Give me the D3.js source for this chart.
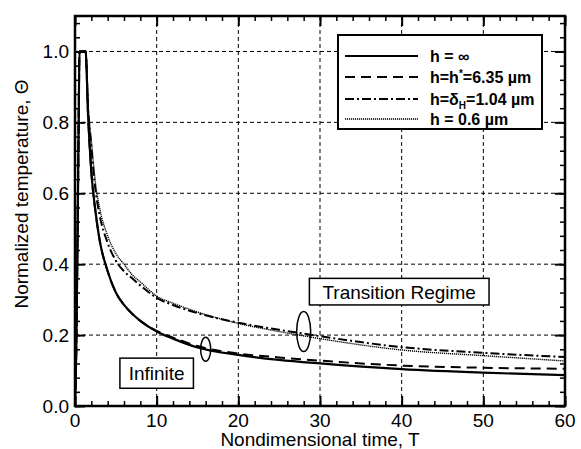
<!DOCTYPE html>
<html>
<head>
<meta charset="utf-8">
<script src="https://cdn.jsdelivr.net/npm/d3@7"></script>
<style>
  body { margin: 0; background: #fff; }
  text { font-family: "Liberation Sans", Arial, Helvetica, sans-serif; fill: #000; }
</style>
</head>
<body>
<svg id="chart" width="581" height="449"></svg>
<script>
// nondimensional time samples shared by all curves
const timeT = [0, 0.15, 0.3, 0.45, 0.55, 1.3, 1.6, 2, 2.5, 3, 4, 5, 6, 7, 8, 10, 12, 15, 20, 25, 30, 40, 50, 60];

// normalized temperature, one array per film thickness
const thetaInf   = [0, 0.15, 0.45, 0.8, 1, 1, 0.82, 0.66, 0.55, 0.47, 0.38, 0.32, 0.285, 0.26, 0.24, 0.21, 0.19, 0.165, 0.144, 0.13, 0.12, 0.104, 0.094, 0.087];
const thetaStar  = [0, 0.15, 0.45, 0.8, 1, 1, 0.82, 0.66, 0.55, 0.47, 0.38, 0.32, 0.285, 0.26, 0.24, 0.212, 0.193, 0.169, 0.148, 0.137, 0.128, 0.114, 0.108, 0.105];
const thetaDelta = [0, 0.15, 0.45, 0.8, 1, 1, 0.84, 0.73, 0.61, 0.54, 0.46, 0.41, 0.38, 0.36, 0.34, 0.305, 0.285, 0.262, 0.235, 0.215, 0.197, 0.166, 0.15, 0.138];
const theta06    = [0, 0.15, 0.45, 0.8, 1, 1, 0.85, 0.75, 0.63, 0.56, 0.48, 0.43, 0.40, 0.37, 0.35, 0.31, 0.29, 0.265, 0.233, 0.21, 0.19, 0.158, 0.142, 0.127];

const xTicks = [0, 10, 20, 30, 40, 50, 60];
const yTicks = [0, 0.2, 0.4, 0.6, 0.8, 1.0];
const xMinor = d3.range(0, 61, 2);
const yMinor = d3.range(0, 1.1001, 0.04);

const margin = { top: 16, right: 16, bottom: 43, left: 75 },
    width = 581 - margin.left - margin.right,
    height = 449 - margin.top - margin.bottom;

const svg = d3.select("#chart")
    .append("g")
    .attr("transform", `translate(${margin.left},${margin.top})`);

const x = d3.scaleLinear().domain([0, 60]).range([0, width]);
const y = d3.scaleLinear().domain([0, 1.1]).range([height, 0]);

// dashed grid
svg.append("g").selectAll("line.vg")
    .data(xTicks.slice(1, -1))
    .join("line")
    .attr("x1", d => x(d)).attr("x2", d => x(d))
    .attr("y1", 0).attr("y2", height)
    .attr("stroke", "#000").attr("stroke-width", 1).attr("stroke-dasharray", "4,3");
svg.append("g").selectAll("line.hg")
    .data(yTicks.slice(1))
    .join("line")
    .attr("x1", 0).attr("x2", width)
    .attr("y1", d => y(d)).attr("y2", d => y(d))
    .attr("stroke", "#000").attr("stroke-width", 1).attr("stroke-dasharray", "4,3");

// curves
const series = [
    { name: "inf", values: thetaInf, dash: null, w: 2.2 },
    { name: "star", values: thetaStar, dash: "10,6", w: 2 },
    { name: "delta", values: thetaDelta, dash: "9,3,2,3", w: 2 },
    { name: "p6", values: theta06, dash: "1.2,0.8", w: 1.4 }
];

const line = d3.line()
    .x((d, i) => x(timeT[i]))
    .y(d => y(d))
    .curve(d3.curveMonotoneX);

svg.append("g").selectAll("path")
    .data(series)
    .join("path")
    .attr("d", d => line(d.values))
    .attr("fill", "none")
    .attr("stroke", "#000")
    .attr("stroke-width", d => d.w)
    .attr("stroke-dasharray", d => d.dash);

// ticks inward on all four sides
function ticks(axisFn, values, size, tr) {
    const g = svg.append("g")
        .attr("transform", tr)
        .call(axisFn.tickValues(values).tickSize(size).tickFormat(""));
    g.select(".domain").remove();
    g.selectAll("line").attr("stroke-width", 1.5);
    return g;
}
ticks(d3.axisBottom(x), xMinor, -5, `translate(0,${height})`);
ticks(d3.axisBottom(x), xTicks, -10, `translate(0,${height})`).selectAll("line").attr("stroke-width", 2);
ticks(d3.axisTop(x), xMinor, -5, "translate(0,0)");
ticks(d3.axisTop(x), xTicks, -10, "translate(0,0)").selectAll("line").attr("stroke-width", 2);
ticks(d3.axisLeft(y), yMinor, -5, "translate(0,0)");
ticks(d3.axisLeft(y), yTicks, -10, "translate(0,0)").selectAll("line").attr("stroke-width", 2);
ticks(d3.axisRight(y), yMinor, -5, `translate(${width},0)`);
ticks(d3.axisRight(y), yTicks, -10, `translate(${width},0)`).selectAll("line").attr("stroke-width", 2);

// frame
svg.append("rect")
    .attr("width", width).attr("height", height)
    .attr("fill", "none").attr("stroke", "#000").attr("stroke-width", 2.5);

// tick labels
svg.append("g").selectAll("text")
    .data(xTicks)
    .join("text")
    .attr("x", d => x(d)).attr("y", height + 21)
    .attr("text-anchor", "middle")
    .attr("font-size", 19)
    .text(d => d);
svg.append("g").selectAll("text")
    .data(yTicks)
    .join("text")
    .attr("x", -6).attr("y", d => y(d) + 7)
    .attr("text-anchor", "end")
    .attr("font-size", 19)
    .text(d => d.toFixed(1));

// axis titles
svg.append("text")
    .attr("x", width / 2).attr("y", height + 40)
    .attr("text-anchor", "middle").attr("font-size", 19)
    .text("Nondimensional time, T");
svg.append("text")
    .attr("transform", `translate(-47,${height / 2 - 17}) rotate(-90)`)
    .attr("text-anchor", "middle").attr("font-size", 19)
    .text("Normalized temperature, Θ");

// legend
const lg = svg.append("g").attr("transform", `translate(${338 - margin.left},${35 - margin.top})`);
lg.append("rect")
    .attr("width", 204).attr("height", 94)
    .attr("fill", "#fff").attr("stroke", "#000").attr("stroke-width", 2);
const rows = [21, 42, 64, 84];
series.forEach((s, i) => {
    lg.append("line")
        .attr("x1", 7).attr("x2", 80)
        .attr("y1", rows[i]).attr("y2", rows[i])
        .attr("stroke", "#000")
        .attr("stroke-width", s.w)
        .attr("stroke-dasharray", s.dash);
});
const lt = (i) => lg.append("text")
    .attr("x", 92).attr("y", rows[i] + 6)
    .attr("font-size", 16).attr("font-weight", "bold");
lt(0).text("h = ∞");
const t1 = lt(1);
t1.append("tspan").text("h=h");
t1.append("tspan").attr("dy", -6).attr("font-size", 10).text("*");
t1.append("tspan").attr("dy", 6).text("=6.35 µm");
const t2 = lt(2);
t2.append("tspan").text("h=δ");
t2.append("tspan").attr("dy", 4).attr("font-size", 10).text("H");
t2.append("tspan").attr("dy", -4).text("=1.04 µm");
lt(3).text("h = 0.6 µm");

// annotations
function labelBox(x0, x1, y0, y1, txt) {
    svg.append("rect")
        .attr("x", x(x0)).attr("y", y(y0))
        .attr("width", x(x1) - x(x0)).attr("height", y(y1) - y(y0))
        .attr("fill", "#fff").attr("stroke", "#000").attr("stroke-width", 1.5);
    svg.append("text")
        .attr("x", (x(x0) + x(x1)) / 2).attr("y", (y(y0) + y(y1)) / 2 + 7)
        .attr("text-anchor", "middle").attr("font-size", 19)
        .text(txt);
}
labelBox(5.5, 14.5, 0.135, 0.05, "Infinite");
labelBox(28.7, 50.7, 0.36, 0.285, "Transition Regime");

svg.append("ellipse")
    .attr("cx", x(16)).attr("cy", y(0.16))
    .attr("rx", 5).attr("ry", 12)
    .attr("fill", "none").attr("stroke", "#000").attr("stroke-width", 1.5);
svg.append("ellipse")
    .attr("cx", x(28)).attr("cy", y(0.21))
    .attr("rx", 7).attr("ry", 20)
    .attr("fill", "none").attr("stroke", "#000").attr("stroke-width", 1.5);
</script>
</body>
</html>
